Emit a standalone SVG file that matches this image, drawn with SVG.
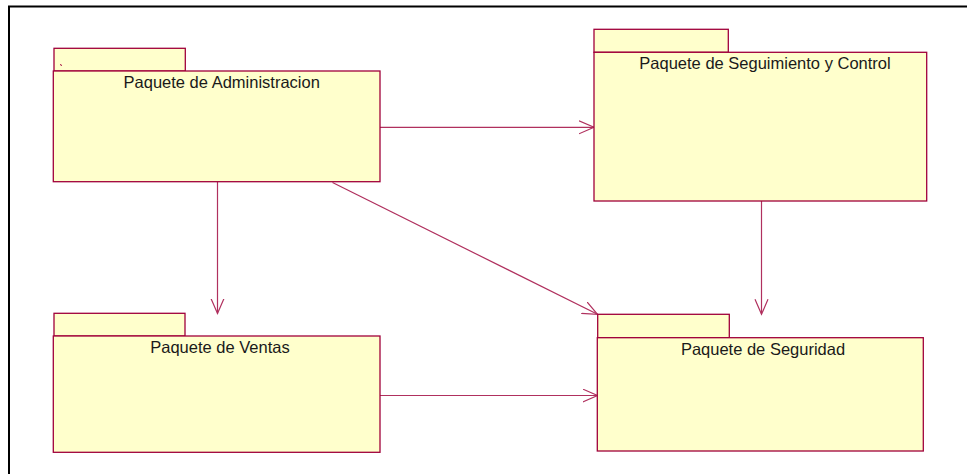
<svg xmlns="http://www.w3.org/2000/svg" width="967" height="474" viewBox="0 0 967 474">
<style>
.pk{fill:#ffffcc;stroke:#a0003a;stroke-width:1.3}
.lbl{font-family:"Liberation Sans",Arial,sans-serif;font-size:16.5px;fill:#1a1a1a;text-anchor:middle}
.cn{stroke:#b0305e;stroke-width:1.2;fill:none}
</style>
<defs>
<marker id="arr" markerWidth="20" markerHeight="16" refX="15" refY="7" orient="auto" markerUnits="userSpaceOnUse">
<path d="M0,0.5 L15,7 L0,13.5" fill="none" stroke="#b0305e" stroke-width="1.2"/>
</marker>
</defs>
<rect width="967" height="474" fill="#ffffff"/>
<path d="M9,474 L9,6.5 L967,6.5" fill="none" stroke="#000" stroke-width="2"/>
<g id="connectors">
<line class="cn" x1="380" y1="127.3" x2="594" y2="127.3" marker-end="url(#arr)"/>
<line class="cn" x1="217.5" y1="182" x2="217.5" y2="313.5" marker-end="url(#arr)"/>
<line class="cn" x1="332.5" y1="182.5" x2="597.5" y2="314.3" marker-end="url(#arr)"/>
<line class="cn" x1="761.5" y1="201" x2="761.5" y2="314.3" marker-end="url(#arr)"/>
<line class="cn" x1="380" y1="395.5" x2="597.5" y2="395.5" marker-end="url(#arr)"/>
</g>
<g id="administracion">
<rect class="pk" x="54" y="48.3" width="131.3" height="22.7"/>
<rect class="pk" x="53.3" y="71" width="326.7" height="110.7"/>
<line x1="60.5" y1="64" x2="61.5" y2="66" stroke="#a0003a" stroke-width="1"/>
<text class="lbl" x="221.7" y="88.3">Paquete de Administracion</text>
</g>
<g id="seguimiento">
<rect class="pk" x="594" y="29.3" width="134.3" height="23"/>
<rect class="pk" x="594" y="52.3" width="332.7" height="148.7"/>
<text class="lbl" x="765" y="69">Paquete de Seguimiento y Control</text>
</g>
<g id="ventas">
<rect class="pk" x="54" y="313.3" width="131" height="22.7"/>
<rect class="pk" x="53.3" y="336" width="326.7" height="116.3"/>
<text class="lbl" x="220" y="352.7">Paquete de Ventas</text>
</g>
<g id="seguridad">
<rect class="pk" x="597.7" y="314.3" width="131.6" height="23.4"/>
<rect class="pk" x="597.3" y="337.7" width="326" height="113.3"/>
<text class="lbl" x="763" y="355">Paquete de Seguridad</text>
</g>
</svg>
